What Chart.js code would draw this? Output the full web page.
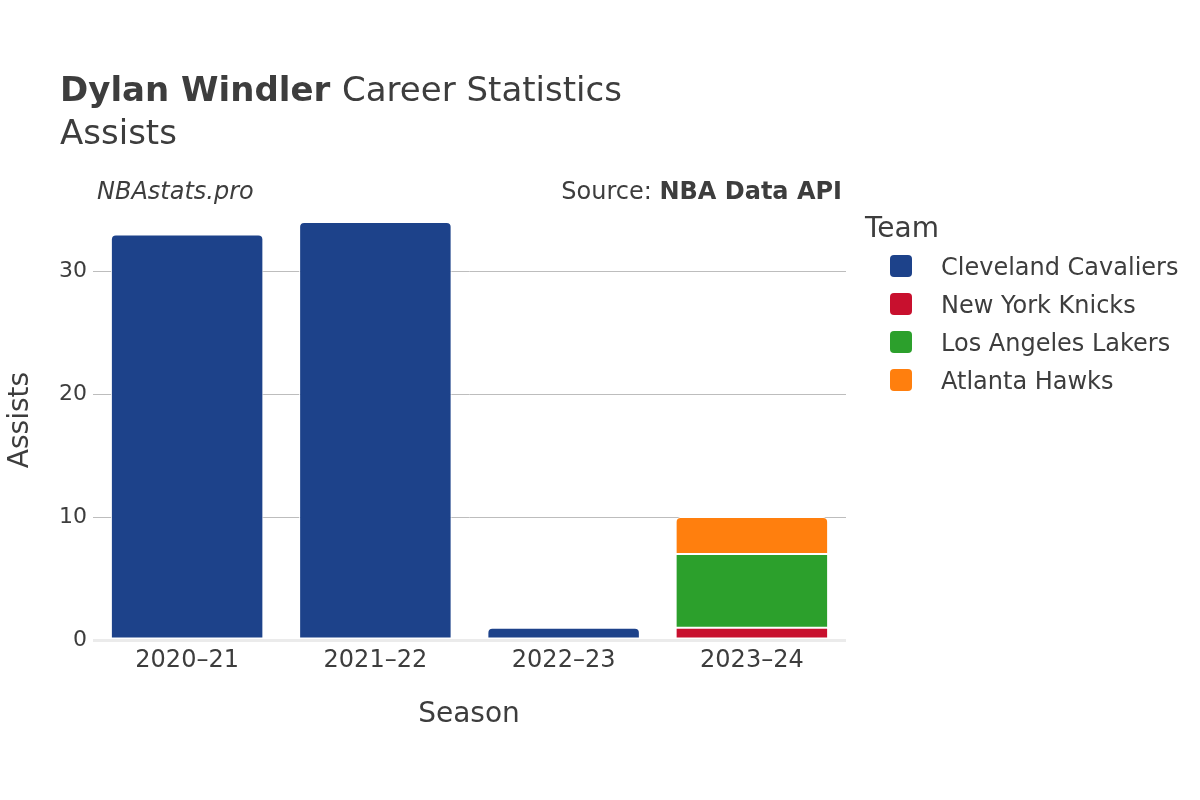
<!DOCTYPE html>
<html lang="en">
<head>
  <meta charset="UTF-8" />
  <title>Dylan Windler Career Statistics - Assists</title>
  <script src="https://cdn.jsdelivr.net/npm/chart.js"></script>
  <style>
    html, body { margin: 0; padding: 0; background: #fff; }
    canvas { display: block; }
  </style>
</head>
<body>
  <canvas id="assistsChart" width="1200" height="800"></canvas>

  <script>
    // values
    const seasons = ['2020–21', '2021–22', '2022–23', '2023–24'];
    const teams = ['Cleveland Cavaliers', 'New York Knicks', 'Los Angeles Lakers', 'Atlanta Hawks'];
    const cavaliers = [33, 34, 1, null];
    const knicks = [null, null, null, 1];
    const lakers = [null, null, null, 6];
    const hawks = [null, null, null, 3];
    const yTicks = [0, 10, 20, 30];

    const teamColors = ['#1d428a', '#c8102e', '#2ca02c', '#ff7f0e'];
    const seriesValues = [cavaliers, knicks, lakers, hawks];

    const FONT = "'DejaVu Sans', sans-serif";
    const TEXT = '#3d3d3d';

    // round only the top segment of each stacked column
    function topRadius(ctx) {
      const i = ctx.dataIndex;
      const ds = ctx.datasetIndex;
      for (let k = seriesValues.length - 1; k > ds; k--) {
        if (seriesValues[k][i]) return 0;
      }
      return { topLeft: 5, topRight: 5, bottomLeft: 0, bottomRight: 0 };
    }

    const textPlugin = {
      id: 'textPlugin',
      afterDraw(chart) {
        const c = chart.ctx;
        c.save();
        c.fillStyle = TEXT;
        c.textBaseline = 'alphabetic';
        c.textAlign = 'left';

        // title
        c.font = 'bold 34px ' + FONT;
        const bold = 'Dylan Windler';
        c.fillText(bold, 60, 101);
        const w = c.measureText(bold + ' ').width;
        c.font = '34px ' + FONT;
        c.fillText('Career Statistics', 60 + w, 101);
        c.fillText('Assists', 60, 144);

        // annotations
        c.font = 'italic 24px ' + FONT;
        c.fillText('NBAstats.pro', 97, 199);
        c.textAlign = 'right';
        c.font = 'bold 24px ' + FONT;
        const src = 'NBA Data API';
        c.fillText(src, 842, 199);
        const sw = c.measureText(src).width;
        c.font = '24px ' + FONT;
        c.fillText('Source: ', 842 - sw, 199);

        // axis titles
        c.textAlign = 'center';
        c.font = '28px ' + FONT;
        c.fillText('Season', 469, 722);
        c.save();
        c.translate(28, 420);
        c.rotate(-Math.PI / 2);
        c.fillText('Assists', 0, 0);
        c.restore();

        // legend
        c.textAlign = 'left';
        c.font = '28px ' + FONT;
        c.fillText('Team', 865, 237);
        c.font = '24px ' + FONT;
        teams.forEach((t, k) => {
          const cy = 266 + k * 38;
          c.fillStyle = teamColors[k];
          c.beginPath();
          c.roundRect(890, cy - 11, 22, 22, 4);
          c.fill();
          c.fillStyle = TEXT;
          c.fillText(t, 941, cy + 9);
        });
        c.restore();
      }
    };

    new Chart(document.getElementById('assistsChart'), {
      type: 'bar',
      data: {
        labels: seasons,
        datasets: teams.map((t, k) => ({
          label: t,
          data: seriesValues[k],
          backgroundColor: teamColors[k],
          borderColor: '#ffffff',
          borderWidth: 1,
          borderRadius: topRadius,
          borderSkipped: false,
          categoryPercentage: 1,
          barPercentage: 0.81
        }))
      },
      options: {
        responsive: false,
        animation: false,
        layout: { padding: { top: 200, right: 354, bottom: 0, left: 0 } },
        plugins: {
          legend: { display: false },
          tooltip: { enabled: false }
        },
        scales: {
          x: {
            stacked: true,
            afterFit(scale) { scale.height = 160; },
            grid: { display: false, drawTicks: false },
            border: { display: false },
            ticks: { color: TEXT, font: { family: FONT, size: 24 }, padding: 6 }
          },
          y: {
            stacked: true,
            min: 0,
            max: 35.8,
            afterFit(scale) { scale.width = 93; },
            afterBuildTicks(scale) { scale.ticks = yTicks.map(v => ({ value: v })); },
            border: { display: false },
            grid: {
              drawTicks: false,
              color: ctx => ctx.tick && ctx.tick.value === 0 ? '#ebebeb' : '#bdbdbd',
              lineWidth: ctx => ctx.tick && ctx.tick.value === 0 ? 3 : 1
            },
            ticks: { color: TEXT, font: { family: FONT, size: 22 }, padding: 6 }
          }
        }
      },
      plugins: [textPlugin]
    });
  </script>
</body>
</html>
